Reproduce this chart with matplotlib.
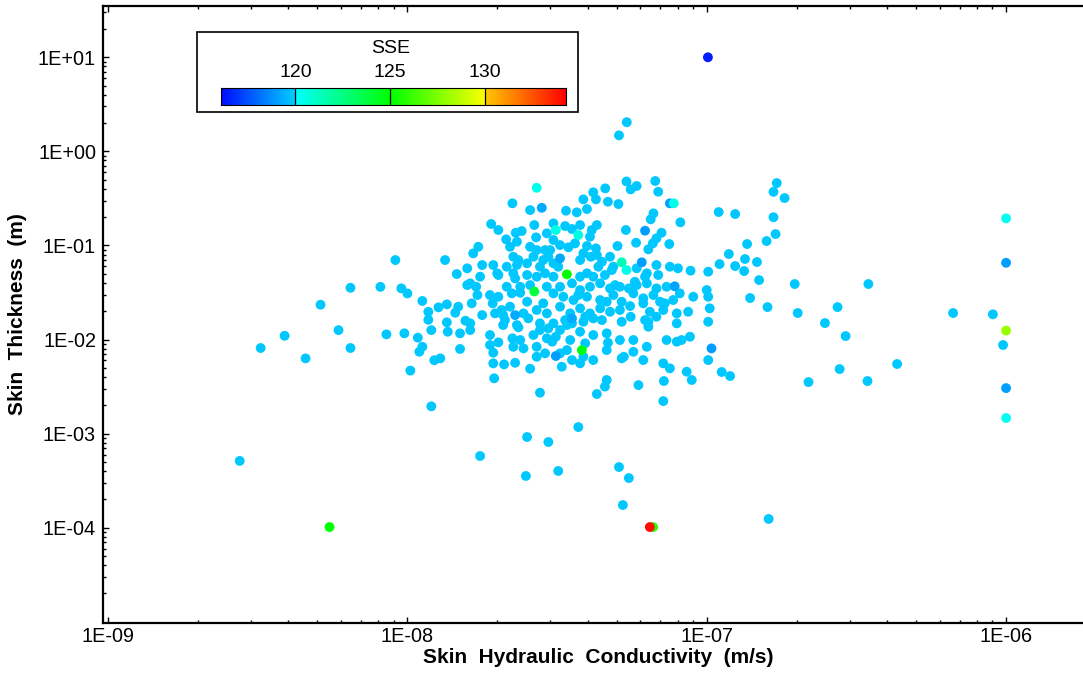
import numpy as np
import matplotlib
matplotlib.use("Agg")
from matplotlib import pyplot as plt
from matplotlib.colors import LinearSegmentedColormap, Normalize
from matplotlib.ticker import LogLocator, FixedLocator, FuncFormatter, NullFormatter
from matplotlib.patches import Rectangle

plt.rcParams['font.family'] = ['Liberation Sans', 'DejaVu Sans']

# log10 of skin hydraulic conductivity (m/s) and skin thickness (m), runs with SSE ~119.8
log_k = [
    -8.56, -8.49, -8.41, -8.34, -8.29, -8.23, -8.19, -8.19, -8.09, -8.04,
    -8.02, -8.00, -7.95, -8.07, -8.01, -7.965, -7.92, -7.93, -7.95, -7.96,
    -7.99, -7.92, -7.91, -7.89, -7.896, -7.868, -7.874, -7.83, -7.84, -7.868,
    -7.806, -7.79, -7.785, -7.79, -7.835, -7.766, -7.75, -7.724, -7.865, -7.824,
    -7.724, -7.696, -7.713, -7.713, -7.677, -7.71, -7.64, -7.59, -7.649, -7.623,
    -7.612, -7.646, -7.568, -7.54, -7.557, -7.68, -7.629, -7.707, -7.68, -7.657,
    -7.715, -7.696, -7.651, -7.623, -7.59, -7.546, -7.60, -7.696, -7.646, -7.757,
    -7.80, -7.557, -7.534, -7.77, -7.649, -7.59, -7.72, -7.696, -7.576, -7.638,
    -7.618, -7.67, -7.634, -7.657, -7.57, -7.534, -7.763, -7.78, -7.80, -7.75,
    -7.713, -7.668, -7.634, -7.579, -7.60, -7.54, -7.59, -7.646, -7.47, -7.434,
    -7.40, -7.412, -7.379, -7.37, -7.339, -7.33, -7.295, -7.268, -7.254, -7.234,
    -7.172, -7.162, -7.178, -7.187, -7.088, -7.27, -7.151, -7.168, -7.18, -7.236,
    -7.125, -7.195, -7.298, -7.512, -7.423, -7.367, -7.39, -7.40, -7.37, -7.473,
    -7.45, -7.384, -7.44, -7.512, -7.49, -7.462, -7.523, -7.568, -7.629, -7.546,
    -7.557, -7.512, -7.496, -7.529, -7.423, -7.412, -7.387, -7.367, -7.35, -7.362,
    -7.323, -7.312, -7.234, -7.20, -7.162, -7.123, -7.096, -7.054, -6.995, -7.168,
    -7.317, -7.379, -7.40, -7.423, -7.512, -7.54, -7.568, -7.60, -7.64, -7.70,
    -7.668, -7.623, -7.534, -7.49, -7.45, -7.423, -7.39, -7.356, -7.323, -7.29,
    -7.26, -7.234, -7.20, -7.168, -7.134, -7.09, -7.045, -7.512, -7.479, -7.445,
    -7.40, -7.356, -7.312, -7.284, -7.245, -7.212, -7.178, -7.156, -7.112, -7.685,
    -7.612, -7.568, -7.534, -7.49, -7.456, -7.423, -7.39, -7.356, -7.323, -7.29,
    -7.254, -7.212, -7.19, -7.145, -7.10, -7.062, -7.93, -7.674, -7.634, -7.596,
    -7.557, -7.512, -7.473, -7.45, -7.412, -7.379, -7.35, -7.284, -7.206, -7.195,
    -7.168, -7.10, -7.824, -7.79, -7.579, -7.49, -7.456, -7.423, -7.379, -7.334,
    -7.29, -7.245, -7.134, -7.084, -7.056, -7.724, -7.568, -7.467, -7.49, -7.412,
    -7.379, -7.334, -7.277, -7.245, -7.20, -7.212, -7.145, -7.123, -7.067, -7.484,
    -7.45, -7.423, -7.334, -7.34, -7.228, -7.367, -7.284, -7.256, -7.195, -7.24,
    -7.206, -7.14, -7.00, -6.995, -6.99, -6.995, -6.995, -7.10, -7.33, -7.406,
    -7.504, -7.516, -7.467, -7.529, -7.406, -7.334, -7.429, -7.306, -7.34, -6.766,
    -6.777, -6.74, -6.96, -6.905, -6.777, -6.77, -6.865, -6.80, -6.872, -6.832,
    -6.957, -6.905, -6.875, -6.926, -6.706, -6.825, -6.855, -6.797, -6.696, -6.605,
    -6.563, -6.536, -6.46, -6.556, -6.66, -6.463, -6.364, -6.177, -6.95, -6.922,
    -7.05, -7.145, -7.143, -7.757, -7.60, -7.529, -7.604, -7.496, -7.429, -7.293,
    -7.26, -7.28, -6.793, -7.267, -7.293, -6.044, -6.01,
]
log_b = [
    -3.29, -2.09, -1.96, -2.20, -1.63, -1.90, -2.09, -1.45, -1.44, -1.155,
    -1.456, -1.51, -1.59, -1.945, -1.934, -1.98, -1.90, -1.79, -2.077, -2.13,
    -2.33, -2.71, -2.22, -2.20, -1.658, -1.626, -1.155, -1.651, -1.715, -1.817,
    -1.80, -1.828, -1.615, -1.403, -1.304, -1.527, -1.74, -1.527, -1.917, -2.10,
    -1.952, -2.03, -2.14, -2.253, -2.264, -2.412, -2.247, -2.31, -1.987, -2.005,
    -2.094, -2.077, -2.183, -2.147, -2.565, -1.846, -1.87, -1.722, -1.74, -1.651,
    -1.615, -1.545, -1.509, -1.503, -1.421, -1.615, -1.598, -1.314, -1.296, -1.332,
    -1.421, -1.899, -1.987, -1.439, -0.552, -0.624, -0.772, -0.836, -0.783, -0.865,
    -0.847, -0.935, -0.96, -1.014, -0.914, -0.871, -1.014, -1.084, -1.243, -1.208,
    -1.208, -1.226, -1.208, -1.12, -1.19, -1.049, -1.014, -1.12, -0.631, -0.648,
    -0.613, -0.51, -0.435, -0.51, -0.393, -0.535, -0.56, -0.32, -0.404, -0.368,
    -0.315, -0.429, -0.659, -0.722, -0.754, -0.836, -0.865, -0.924, -0.978, -0.971,
    -0.985, -1.041, -1.006, -0.765, -0.783, -0.783, -0.907, -1.006, -1.031, -0.794,
    -0.825, -0.836, -0.978, -0.942, -0.996, -1.02, -1.049, -1.049, -1.155, -1.155,
    -1.226, -1.19, -1.226, -1.12, -1.155, -1.084, -1.12, -1.102, -1.173, -1.226,
    -1.12, -1.226, -1.243, -1.296, -1.314, -1.226, -1.243, -1.268, -1.279, -1.208,
    -1.261, -1.332, -1.296, -1.332, -1.332, -1.296, -1.332, -1.314, -1.35, -1.296,
    -1.439, -1.439, -1.439, -1.439, -1.403, -1.474, -1.439, -1.403, -1.456, -1.439,
    -1.456, -1.421, -1.403, -1.456, -1.439, -1.509, -1.545, -1.509, -1.545, -1.58,
    -1.545, -1.58, -1.527, -1.598, -1.509, -1.562, -1.527, -1.598, -1.58, -1.686,
    -1.722, -1.686, -1.722, -1.651, -1.722, -1.668, -1.722, -1.668, -1.705, -1.686,
    -1.758, -1.615, -1.705, -1.686, -1.722, -1.705, -1.705, -1.793, -1.846, -1.775,
    -1.828, -1.828, -1.793, -1.828, -1.811, -1.775, -1.793, -1.811, -1.793, -1.864,
    -1.758, -1.828, -1.934, -1.899, -1.952, -1.899, -2.005, -1.917, -1.952, -1.934,
    -2.005, -2.005, -2.005, -2.005, -1.97, -2.058, -2.077, -2.112, -2.147, -2.183,
    -2.218, -2.112, -2.183, -2.13, -2.077, -2.218, -2.253, -2.306, -2.342, -2.289,
    -2.218, -2.253, -2.43, -2.50, -2.484, -2.579, -2.20, -1.644, -1.811, -1.386,
    -1.332, -1.615, -1.474, -1.545, -1.668, -1.811, -2.218, -2.023, -2.034, -2.04,
    -1.97, -2.023, -1.846, -1.881, -1.758, -1.598, -1.527, -1.421, -1.314, -0.337,
    -0.43, -0.496, -0.645, -0.666, -0.70, -0.879, -0.985, -0.953, -1.144, -1.176,
    -1.198, -1.219, -1.272, -1.091, -1.41, -1.368, -1.559, -1.655, -1.718, -1.825,
    -1.655, -1.963, -1.41, -2.314, -2.452, -2.441, -2.26, -1.718, -2.345, -2.388,
    -2.43, -2.654, -2.441, -3.238, -3.036, -3.089, -3.45, -3.397, -2.93, -3.355,
    -3.472, -3.759, -3.907, 0.31, 0.17, -1.732, -2.058,
]
sse_common = 119.8

# runs whose SSE differs from the common value
odd_log_k = [-7.568, -7.551, -7.123, -7.11, -7.206, -7.504, -7.429, -7.284, -7.268, -7.217,
             -7.49, -7.64, -7.45, -7.504, -7.107, -6.984, -6.00, -6.00, -6.00, -6.00,
             -7.467, -7.576, -7.417, -8.26, -7.179, -7.19, -6.00, -6.996]
odd_log_b = [-0.387, -0.60, -0.552, -0.552, -0.843, -0.836, -0.889, -1.179, -1.261, -1.179,
             -1.137, -1.74, -1.775, -2.175, -1.434, -2.094, -0.712, -1.184, -2.516, -2.834,
             -1.307, -1.489, -2.112, -3.993, -3.993, -3.993, -1.905, 1.00]
odd_sse = [120.4, 119.2, 119.0, 120.5, 119.0, 120.5, 120.6, 121.5, 120.5, 119.0,
           119.2, 119.2, 119.2, 119.0, 119.1, 119.0, 120.3, 119.0, 119.0, 120.3,
           125.0, 123.8, 124.6, 125.0, 125.8, 134.0, 128.0, 116.4]

cbar_ticks = [120, 125, 130]
sse_min, sse_max = 116.07, 134.25

def frac(v):
    return (v - sse_min) / (sse_max - sse_min)

cmap = LinearSegmentedColormap.from_list('tec', [
    (0.0, (0.0, 0.05, 1.0)),
    (frac(119.99), (0.0, 0.82, 1.0)),
    (frac(120.0), (0.0, 1.0, 1.0)),
    (frac(125.0), (0.0, 1.0, 0.0)),
    (frac(129.99), (1.0, 1.0, 0.0)),
    (frac(130.0), (1.0, 0.78, 0.0)),
    (1.0, (1.0, 0.0, 0.0)),
], N=512)
norm = Normalize(sse_min, sse_max)

fig = plt.figure(figsize=(10.83, 6.75), dpi=100)
ax = fig.add_axes([0.0951, 0.0770, 0.9049, 0.9141])

k = 10 ** np.array(log_k)
b = 10 ** np.array(log_b)
ax.scatter(k, b, c=np.full(len(k), sse_common), cmap=cmap, norm=norm, s=50, linewidths=0)
ax.scatter(10 ** np.array(odd_log_k), 10 ** np.array(odd_log_b), c=odd_sse,
           cmap=cmap, norm=norm, s=50, linewidths=0)

ax.set_xscale('log')
ax.set_yscale('log')
ax.set_xlim(10 ** -9.0167, 10 ** -5.743)
ax.set_ylim(10 ** -5.013, 10 ** 1.545)

def fmt(v, pos):
    return "1E%+03d" % int(round(np.log10(v)))

ax.xaxis.set_major_locator(FixedLocator([1e-9, 1e-8, 1e-7, 1e-6]))
ax.yaxis.set_major_locator(FixedLocator([1e-4, 1e-3, 1e-2, 1e-1, 1e0, 1e1]))
ax.xaxis.set_minor_locator(LogLocator(base=10, subs=np.arange(2, 10), numticks=20))
ax.yaxis.set_minor_locator(LogLocator(base=10, subs=np.arange(2, 10), numticks=20))
ax.xaxis.set_major_formatter(FuncFormatter(fmt))
ax.yaxis.set_major_formatter(FuncFormatter(fmt))
ax.xaxis.set_minor_formatter(NullFormatter())
ax.yaxis.set_minor_formatter(NullFormatter())

ax.tick_params(which='both', direction='in', top=True, right=False, width=1.0,
               labelsize=14.3, color='black')
ax.tick_params(which='major', length=4)
ax.tick_params(which='minor', length=2.2)
ax.tick_params(axis='x', pad=3)
ax.tick_params(axis='y', pad=5)
ax.spines['right'].set_visible(False)
for side in ['left', 'bottom', 'top']:
    ax.spines[side].set_linewidth(1.6)

ax.set_xlabel("Skin  Hydraulic  Conductivity  (m/s)", fontsize=15, fontweight='bold')
ax.set_ylabel("Skin  Thickness  (m)", fontsize=15, fontweight='bold')
ax.xaxis.set_label_coords(0.505, -0.040)
ax.yaxis.set_label_coords(-0.0776, 0.500)

# legend box with colour bar
fig.patches.append(Rectangle((0.1822, 0.8336), 0.3513, 0.1185, transform=fig.transFigure,
                             facecolor='white', edgecolor='black', linewidth=1.2, zorder=5))
cax = fig.add_axes([0.2038, 0.8444, 0.3188, 0.0247], zorder=6)
grad = np.linspace(sse_min, sse_max, 400).reshape(1, -1)
cax.imshow(grad, aspect='auto', cmap=cmap, norm=norm,
           extent=[sse_min, sse_max, 0, 1])
for t in cbar_ticks:
    cax.axvline(t, color='black', linewidth=0.9)
cax.set_xlim(sse_min, sse_max)
cax.set_xticks(cbar_ticks)
cax.set_yticks([])
cax.xaxis.set_ticks_position('top')
cax.tick_params(axis='x', length=0, pad=5, labelsize=14)
for s in cax.spines.values():
    s.set_linewidth(0.8)
fig.text(0.3610, 0.921, "SSE", ha='center', va='baseline', fontsize=14, zorder=7)

fig.savefig("out.png", dpi=100)
